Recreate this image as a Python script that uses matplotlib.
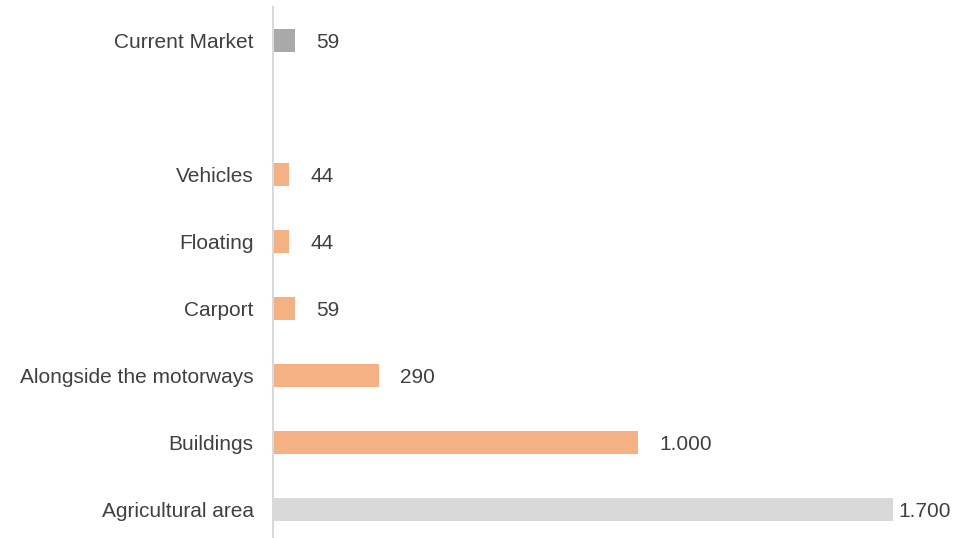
import matplotlib.pyplot as plt

plt.rcParams['font.family'] = ['Liberation Sans', 'DejaVu Sans']

# Top to bottom; the empty string leaves a gap row
categories = ['Current Market', '', 'Vehicles', 'Floating', 'Carport',
              'Alongside the motorways', 'Buildings', 'Agricultural area']
values = [59, None, 44, 44, 59, 290, 1000, 1700]
labels = ['59', '', '44', '44', '59', '290', '1.000', '1.700']
colors = ['#A9A9A9', 'none', '#F4B183', '#F4B183', '#F4B183',
          '#F4B183', '#F4B183', '#D9D9D9']

text_color = '#404040'
fs = 15

fig = plt.figure(figsize=(9.56, 5.38), dpi=100)
ax = fig.add_axes([273 / 956, -0.0084, 620 / 956, 0.9963])

ypos = list(range(len(categories)))
for y, v, c in zip(ypos, values, colors):
    if v is None:
        continue
    ax.barh(y, v, height=0.343, color=c, left=0)

for y, v, lab in zip(ypos, values, labels):
    if v is None:
        continue
    # the longest bar has no room, so its label sits closer
    off = 4 if v == max(x for x in values if x is not None) else 15.5
    ax.annotate(lab, (v, y), xytext=(off, 0), textcoords='offset points',
                va='center_baseline', ha='left', fontsize=fs, color=text_color,
                annotation_clip=False)

ax.set_xlim(0, 1700)
ax.set_ylim(len(categories) - 0.5, -0.5)
ax.set_yticks(ypos)
ax.set_yticklabels(categories, fontsize=fs, color=text_color)
ax.tick_params(axis='y', length=0, pad=14)
ax.set_xticks([])

for side in ['top', 'right', 'bottom']:
    ax.spines[side].set_visible(False)
ax.spines['left'].set_color('#D9D9D9')
ax.spines['left'].set_linewidth(1.5)

fig.savefig('out.png', dpi=100)
